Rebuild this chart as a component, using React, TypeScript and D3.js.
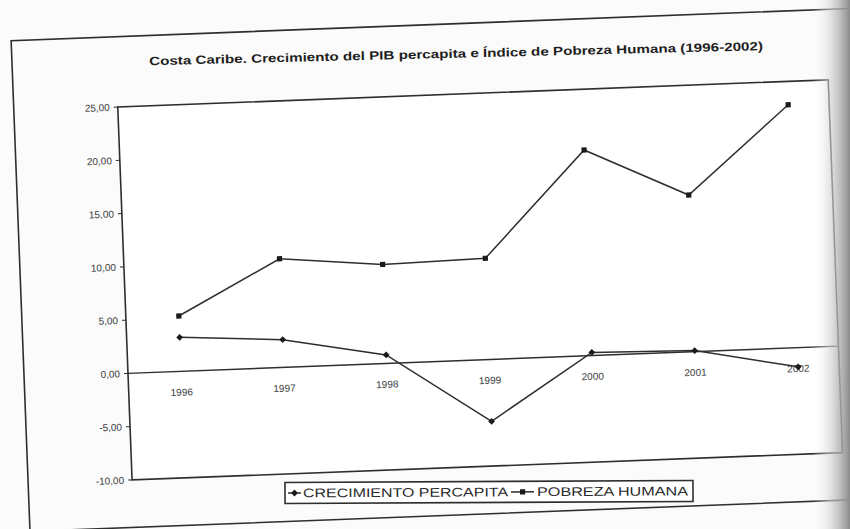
import React from 'react';
import * as d3 from 'd3';

const years = ['1996', '1997', '1998', '1999', '2000', '2001', '2002'];
const crecimiento = [3.2, 2.6, 0.8, -5.8, 0.3, 0.1, -1.8];
const pobreza = [5.2, 10.2, 9.3, 9.5, 19.3, 14.7, 22.8];
const yTicks = [25, 20, 15, 10, 5, 0, -5, -10];
const title = 'Costa Caribe. Crecimiento del PIB percapita e Índice de Pobreza Humana (1996-2002)';
const seriesNames = ['CRECIMIENTO PERCAPITA', 'POBREZA HUMANA'];

const W = 850;
const H = 529;
const PW = 711;
const INK = '#2e2e2e';
const FONT = 'Arial, "Liberation Sans", sans-serif';

export default function App() {
  const x = d3.scalePoint<string>().domain(years).range([53, 670]);
  const y = d3.scaleLinear().domain([-10, 25]).range([106.5, -266.6]);
  const line = d3
    .line<number>()
    .x((_, i) => x(years[i]) as number)
    .y((d) => y(d));
  const fmt = (v: number) => d3.format('.2f')(v).replace('.', ',').replace('−', '-');

  const diamond = (cx: number, cy: number, r: number) =>
    `M${cx},${cy - r}L${cx + r},${cy}L${cx},${cy + r}L${cx - r},${cy}Z`;

  return (
    <svg width={W} height={H} style={{ position: 'absolute', left: 0, top: 0, display: 'block' }}>
      <defs>
        <linearGradient id="shade" x1="0" x2="1" y1="0" y2="0">
          <stop offset="0" stopColor="#ffffff" stopOpacity="0" />
          <stop offset="0.45" stopColor="#d8d8d8" stopOpacity="0.6" />
          <stop offset="1" stopColor="#8a8a8a" stopOpacity="1" />
        </linearGradient>
      </defs>
      <rect x={0} y={0} width={W} height={H} fill="#fbfbfb" />

      {/* title */}
      <g transform="translate(456,53.5) rotate(-1.4)">
        <text
          x={0}
          y={0}
          dy="0.35em"
          textAnchor="middle"
          fontFamily={FONT}
          fontWeight="bold"
          fontSize={12}
          fill="#1e1e1e"
          textLength={614}
          lengthAdjust="spacingAndGlyphs"
        >
          {title}
        </text>
      </g>

      <g transform="translate(128,373.5) rotate(-2.2)">
        {/* outer chart frame */}
        <rect x={-104} y={-337} width={880} height={491} fill="none" stroke={INK} strokeWidth={1.6} />
        {/* plot frame */}
        <rect x={0} y={y(25)} width={PW} height={y(-10) - y(25)} fill="#ffffff" stroke={INK} strokeWidth={1.6} />
        {/* zero / category axis */}
        <line x1={0} x2={PW} y1={y(0)} y2={y(0)} stroke={INK} strokeWidth={1.4} />

        {/* y ticks */}
        {yTicks.map((t) => (
          <g key={t}>
            <line x1={-4} x2={0} y1={y(t)} y2={y(t)} stroke={INK} strokeWidth={1} />
            <text
              x={-8}
              y={y(t)}
              dy="0.35em"
              textAnchor="end"
              fontFamily={FONT}
              fontSize={10}
              fill="#3a3a3a"
            >
              {fmt(t)}
            </text>
          </g>
        ))}

        {/* x labels */}
        {years.map((yr) => (
          <text
            key={yr}
            x={x(yr)}
            y={20.7}
            dy="0.35em"
            textAnchor="middle"
            fontFamily={FONT}
            fontSize={10}
            fill="#3a3a3a"
          >
            {yr}
          </text>
        ))}

        {/* series */}
        <path d={line(pobreza) || ''} fill="none" stroke={INK} strokeWidth={1.5} />
        <path d={line(crecimiento) || ''} fill="none" stroke={INK} strokeWidth={1.5} />
        {pobreza.map((v, i) => (
          <rect key={'p' + i} x={(x(years[i]) as number) - 2.6} y={y(v) - 2.6} width={5.2} height={5.2} fill="#1a1a1a" />
        ))}
        {crecimiento.map((v, i) => (
          <path key={'c' + i} d={diamond(x(years[i]) as number, y(v), 3.4)} fill="#1a1a1a" />
        ))}
      </g>

      {/* legend */}
      <g transform="translate(489,492) rotate(-0.3)">
        <rect x={-204} y={-10.5} width={408} height={21} fill="#ffffff" stroke={INK} strokeWidth={1.6} />
        <line x1={-201} x2={-188} y1={0} y2={0} stroke={INK} strokeWidth={1.5} />
        <path d={diamond(-194.5, 0, 3.4)} fill="#1a1a1a" />
        <text
          x={-186}
          y={0}
          dy="0.35em"
          fontFamily={FONT}
          fontSize={12.5}
          fill="#2a2a2a"
          textLength={205}
          lengthAdjust="spacingAndGlyphs"
        >
          {seriesNames[0]}
        </text>
        <line x1={22} x2={45} y1={0} y2={0} stroke={INK} strokeWidth={1.5} />
        <rect x={31} y={-2.6} width={5.2} height={5.2} fill="#1a1a1a" />
        <text
          x={48}
          y={0}
          dy="0.35em"
          fontFamily={FONT}
          fontSize={12.5}
          fill="#2a2a2a"
          textLength={151}
          lengthAdjust="spacingAndGlyphs"
        >
          {seriesNames[1]}
        </text>
      </g>

      {/* page shadow at right edge */}
      <rect x={812} y={0} width={38} height={H} fill="url(#shade)" />
    </svg>
  );
}
